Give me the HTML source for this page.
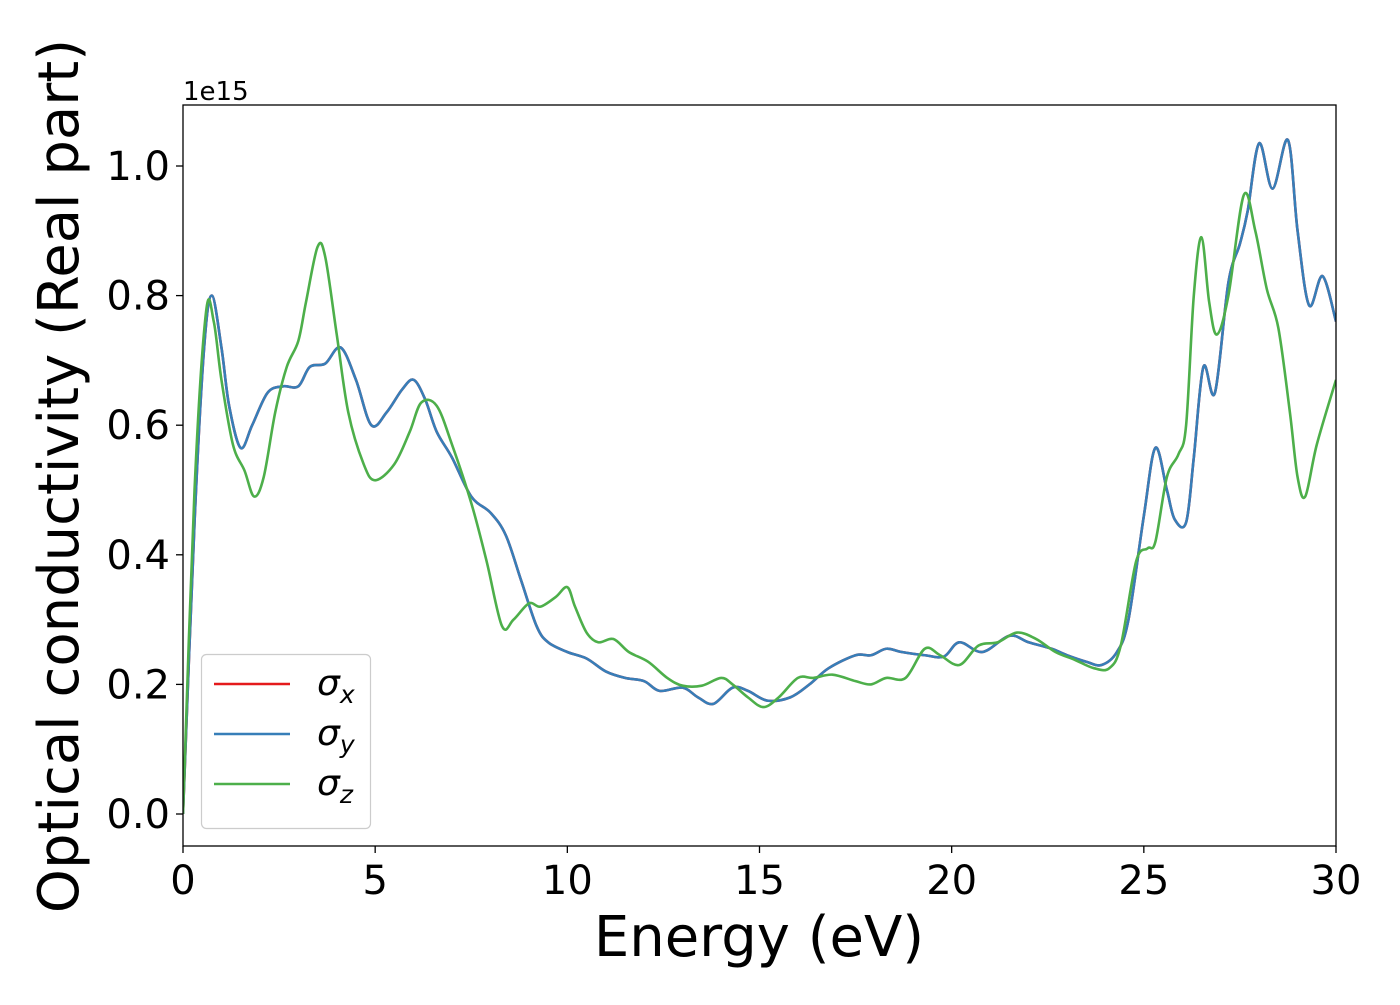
<!DOCTYPE html>
<html><head><meta charset="utf-8"><style>
html,body{margin:0;padding:0;background:#fff;}
svg text{font-family:"DejaVu Sans","Liberation Sans",sans-serif;fill:#000;}
</style></head><body>
<svg id="chart" width="1400" height="1000" xmlns="http://www.w3.org/2000/svg">
<rect width="1400" height="1000" fill="#fff"/>
<g id="plot"></g>
</svg>
<script>
const xTicks=[0,5,10,15,20,25,30];
const yTicks=[0.0,0.2,0.4,0.6,0.8,1.0];
const energyBlue=[0,0.3,0.55,0.75,1.0,1.2,1.5,1.8,2.2,2.6,3.0,3.3,3.7,4.1,4.5,4.9,5.3,5.7,6.0,6.3,6.6,7.0,7.5,8.0,8.4,8.8,9.2,9.5,10.0,10.5,11.0,11.5,12.0,12.4,13.0,13.4,13.8,14.3,14.7,15.2,15.8,16.3,16.8,17.5,17.9,18.3,18.7,19.3,19.8,20.2,20.8,21.5,22.0,22.6,23.0,23.5,23.9,24.3,24.6,25.0,25.3,25.6,25.8,26.1,26.3,26.55,26.85,27.2,27.5,27.7,28.0,28.35,28.75,29.0,29.3,29.65,30];
const sigmaXY=[0,0.45,0.72,0.80,0.72,0.63,0.565,0.60,0.65,0.66,0.66,0.69,0.695,0.72,0.67,0.60,0.62,0.655,0.67,0.64,0.59,0.55,0.49,0.465,0.43,0.36,0.29,0.265,0.25,0.24,0.22,0.21,0.205,0.19,0.195,0.18,0.17,0.195,0.19,0.175,0.18,0.2,0.225,0.245,0.245,0.255,0.25,0.245,0.243,0.265,0.25,0.275,0.265,0.255,0.245,0.235,0.23,0.25,0.3,0.46,0.565,0.5,0.455,0.45,0.55,0.69,0.65,0.82,0.88,0.93,1.035,0.965,1.04,0.9,0.785,0.83,0.76];
const energyGreen=[0,0.3,0.6,0.8,1.0,1.3,1.6,1.85,2.1,2.4,2.7,3.0,3.2,3.5,3.7,4.0,4.3,4.7,5.0,5.5,5.9,6.2,6.6,7.0,7.5,7.9,8.3,8.6,9.0,9.3,9.7,10.0,10.2,10.5,10.8,11.2,11.6,12.1,12.6,13.0,13.5,14.0,14.3,14.7,15.1,15.5,16.0,16.4,16.9,17.5,17.9,18.3,18.8,19.3,19.7,20.2,20.7,21.2,21.7,22.2,22.7,23.2,23.7,24.1,24.4,24.8,25.1,25.3,25.6,25.9,26.1,26.3,26.5,26.7,26.9,27.2,27.6,27.9,28.2,28.5,28.8,29.0,29.2,29.5,30];
const sigmaZ=[0,0.5,0.775,0.76,0.67,0.57,0.53,0.49,0.52,0.62,0.69,0.73,0.79,0.875,0.86,0.74,0.62,0.54,0.515,0.54,0.59,0.635,0.63,0.57,0.48,0.39,0.29,0.30,0.325,0.32,0.335,0.35,0.32,0.28,0.265,0.27,0.25,0.235,0.21,0.198,0.198,0.21,0.20,0.18,0.165,0.18,0.21,0.21,0.215,0.205,0.20,0.21,0.21,0.255,0.245,0.23,0.26,0.265,0.28,0.27,0.25,0.238,0.225,0.225,0.26,0.39,0.41,0.42,0.52,0.555,0.6,0.8,0.89,0.79,0.74,0.8,0.955,0.9,0.81,0.75,0.62,0.52,0.49,0.57,0.67];
const legendLabels=[["σ","x"],["σ","y"],["σ","z"]];

const L=183,R=1336,T=105,B=846;
const xs=v=>L+v/30*(R-L);
const ys=v=>814-v*648;
const NS="http://www.w3.org/2000/svg";
const g=document.getElementById('plot');
function mk(tag,attrs,parent){const e=document.createElementNS(NS,tag);for(const k in attrs)e.setAttribute(k,attrs[k]);(parent||g).appendChild(e);return e;}
const clip=mk('clipPath',{id:'clip'});mk('rect',{x:L,y:T,width:R-L,height:B-T},clip);
function pathFrom(xv,yv){
  const p=xv.map((x,i)=>[xs(x),ys(yv[i])]);
  let d=`M${p[0][0]},${p[0][1]}`;
  for(let i=0;i<p.length-1;i++){
    const p0=p[Math.max(0,i-1)],p1=p[i],p2=p[i+1],p3=p[Math.min(p.length-1,i+2)];
    const c1=[p1[0]+(p2[0]-p0[0])/6,p1[1]+(p2[1]-p0[1])/6];
    const c2=[p2[0]-(p3[0]-p1[0])/6,p2[1]-(p3[1]-p1[1])/6];
    d+=`C${c1[0]},${c1[1]} ${c2[0]},${c2[1]} ${p2[0]},${p2[1]}`;
  }
  return d;
}
// axes ticks
xTicks.forEach(t=>{
  const l=mk('line',{x1:xs(t),x2:xs(t),y1:B,y2:B+7,stroke:'#000','stroke-width':1.3});
  
  
  const tx=mk('text',{x:xs(t),y:894,'text-anchor':'middle','font-size':40});
  tx.textContent=t;
  
  
});
yTicks.forEach(t=>{
  const l=mk('line',{x1:L-7,x2:L,y1:ys(t),y2:ys(t),stroke:'#000','stroke-width':1.3});
  
  
  const tx=mk('text',{x:170,y:ys(t)+14,'text-anchor':'end','font-size':40});
  tx.textContent=t.toFixed(1);
  
  
});
const series=[[energyBlue,sigmaXY,'#e41a1c','sigma-x-line'],[energyBlue,sigmaXY,'#377eb8','sigma-y-line'],[energyGreen,sigmaZ,'#4daf4a','sigma-z-line']];
series.forEach(s=>{
  const p=mk('path',{d:pathFrom(s[0],s[1]),fill:'none',stroke:s[2],'stroke-width':2.6,'clip-path':'url(#clip)','stroke-linejoin':'round'});
  
  
});
const frame=mk('rect',{x:L,y:T,width:R-L,height:B-T,fill:'none',stroke:'#000','stroke-width':1.3});


const off=mk('text',{x:183,y:100,'font-size':26});off.textContent='1e15';


const xt=mk('text',{x:759,y:956,'text-anchor':'middle','font-size':56});xt.textContent='Energy (eV)';


const yt=mk('text',{x:0,y:0,'text-anchor':'middle','font-size':56,transform:'translate(78,476) rotate(-90)'});yt.textContent='Optical conductivity (Real part)';


// legend
const lg=mk('g',{});


mk('rect',{x:201.5,y:654.5,width:169,height:174,rx:5,fill:'#fff','fill-opacity':0.8,stroke:'#ccc','stroke-width':1.2},lg);
legendLabels.forEach((lab,i)=>{
  const y=684+i*50;
  const ln=mk('line',{x1:214,x2:290,y1:y,y2:y,stroke:series[i][2],'stroke-width':2.6},lg);
  
  
  const tx=mk('text',{x:317,y:y+11,'font-size':36,'font-style':'italic'},lg);
  
  
  tx.textContent=lab[0];
  const sub=mk('tspan',{'font-size':25,dy:8},tx);sub.textContent=lab[1];
});
</script>
</body></html>
